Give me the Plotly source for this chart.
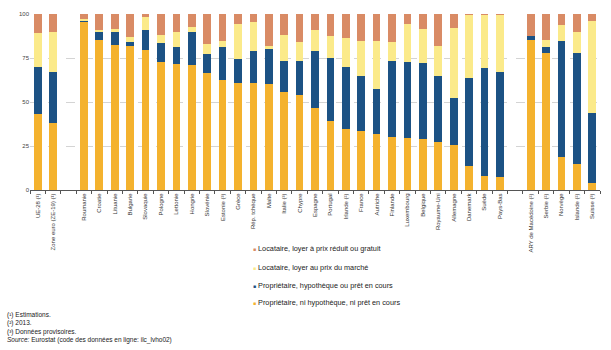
import plotly.graph_objects as go

categories = [
    "UE-28 (¹)", "Zone euro (ZE-19) (¹)", " ",
    "Roumanie", "Croatie", "Lituanie", "Bulgarie", "Slovaquie", "Pologne",
    "Lettonie", "Hongrie", "Slovénie", "Estonie (³)", "Grèce", "Rép. tchèque",
    "Malte", "Italie (³)", "Chypre", "Espagne", "Portugal", "Irlande (²)",
    "France", "Autriche", "Finlande", "Luxembourg", "Belgique", "Royaume-Uni",
    "Allemagne", "Danemark", "Suède", "Pays-Bas", "  ",
    "ARY de Macédoine (²)", "Serbie (²)", "Norvège", "Islande (²)", "Suisse (³)",
]

# Propriétaire, ni hypothèque, ni prêt en cours
owner_no_mortgage = [
    43.0, 38.3, None,
    95.5, 85.4, 82.4, 81.7, 79.4, 72.9, 71.8, 70.8, 66.7, 62.4, 60.7, 60.7,
    60.2, 55.9, 53.8, 46.7, 39.3, 34.4, 33.6, 32.0, 30.1, 29.7, 29.0, 27.1,
    25.6, 13.8, 7.7, 7.3, None,
    85.4, 77.9, 18.5, 14.6, 4.1,
]
# Propriétaire, hypothèque ou prêt en cours
owner_mortgage = [
    27.1, 28.8, None,
    0.8, 4.3, 7.7, 2.6, 11.3, 10.8, 9.3, 18.9, 10.3, 18.7, 13.5, 18.2,
    20.0, 17.4, 19.3, 32.2, 35.8, 35.5, 31.4, 25.4, 43.0, 43.0, 43.1, 37.8,
    26.7, 49.6, 61.5, 59.8, None,
    2.1, 3.4, 66.0, 63.2, 39.8,
]
# Locataire, loyer au prix du marché
tenant_market = [
    19.1, 22.4, None,
    0.9, 1.3, 1.1, 2.6, 7.4, 4.2, 8.6, 3.0, 5.8, 3.4, 20.0, 16.8,
    1.9, 14.6, 11.2, 12.1, 12.4, 16.5, 19.5, 27.1, 11.0, 21.9, 19.5, 17.2,
    40.0, 36.4, 30.4, 32.5, None,
    0.2, 3.7, 9.3, 11.9, 52.4,
]
# Locataire, loyer à prix réduit ou gratuit
tenant_reduced = [
    10.8, 10.5, None,
    2.8, 9.0, 8.8, 13.1, 1.9, 12.1, 10.3, 7.3, 17.2, 15.5, 5.8, 4.3,
    17.9, 12.1, 15.7, 9.0, 12.5, 13.6, 15.5, 15.5, 15.9, 5.4, 8.4, 17.9,
    7.7, 0.2, 0.4, 0.4, None,
    12.3, 15.0, 6.2, 10.3, 3.7,
]

series = [
    ("Propriétaire, ni hypothèque, ni prêt en cours", owner_no_mortgage, "#F4B22E"),
    ("Propriétaire, hypothèque ou prêt en cours", owner_mortgage, "#1C5284"),
    ("Locataire, loyer au prix du marché", tenant_market, "#FBEA8A"),
    ("Locataire, loyer à prix réduit ou gratuit", tenant_reduced, "#D98B65"),
]

y_ticks = [0, 25, 50, 75, 100]

footnotes = (
    "(¹) Estimations.<br>"
    "(²) 2013.<br>"
    "(³) Données provisoires.<br>"
    "<i>Source:</i> Eurostat (code des données en ligne: ilc_lvho02)"
)

FONT = "Liberation Sans, Arial, sans-serif"

fig = go.Figure()
for name, vals, color in series:
    fig.add_trace(go.Bar(
        x=categories, y=vals, name=name,
        marker=dict(color=color, line=dict(width=0)),
        showlegend=False,
    ))

# legend drawn as text rows (top row = last trace), small square keys
annotations = []
legend_rows = list(reversed(series))
legend_y = [-0.331, -0.438, -0.545, -0.640]
for (name, _vals, color), ly in zip(legend_rows, legend_y):
    annotations.append(dict(
        text=f'<span style="color:{color}; font-size:5px">■</span> {name}',
        xref="paper", yref="paper", x=0.3877, y=ly,
        xanchor="left", yanchor="middle", showarrow=False, align="left",
        font=dict(size=7.3, color="#222222", family=FONT),
    ))

annotations.append(dict(
    text=footnotes, xref="paper", yref="paper",
    x=-0.044, y=-0.675, xanchor="left", yanchor="top",
    showarrow=False, align="left",
    font=dict(size=6.5, color="#222222", family=FONT),
))

fig.update_layout(
    width=611, height=350,
    margin=dict(l=30, r=11, t=12, b=160),
    barmode="stack", bargap=0.5,
    plot_bgcolor="white", paper_bgcolor="white",
    font=dict(family=FONT, size=6, color="#333333"),
    showlegend=False,
    annotations=annotations,
)

fig.update_xaxes(
    type="category", categoryorder="array", categoryarray=categories,
    tickangle=-90, tickfont=dict(size=6, color="#333333"),
    showline=True, linecolor="#555555", linewidth=1,
    ticks="outside", ticklen=3, tickcolor="#555555", tickson="boundaries",
    showgrid=False,
)
fig.update_yaxes(
    range=[0, 100], tickvals=y_ticks,
    tickfont=dict(size=6, color="#444444"),
    showgrid=True, gridcolor="#d4d4d4", griddash="dash", gridwidth=1,
    zeroline=False, showline=False, ticks="",
)

fig.write_html("out.html")
